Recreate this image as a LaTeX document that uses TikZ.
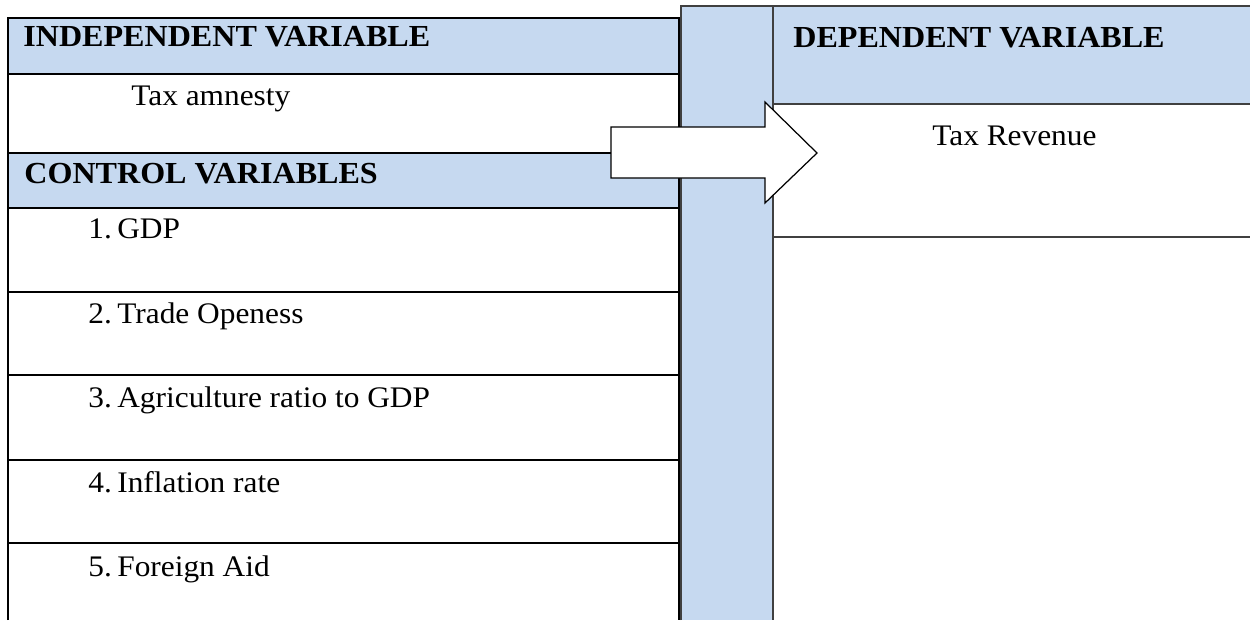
\documentclass[tikz,border=0pt]{standalone}
\usepackage{fontspec}
\setmainfont[FakeStretch=1.05]{Liberation Serif}
\usepackage{tikz}
\definecolor{hdrblue}{RGB}{198,217,240}
\tikzset{
  rowline/.style={black, line width=0.9pt},
  thinline/.style={black!75, line width=0.6pt},
  lbl/.style={anchor=base west, inner sep=0pt},
  hdrlbl/.style={lbl, font=\fontsize{17.4}{20}\selectfont\bfseries},
}

\begin{document}
\begin{tikzpicture}[x=0.02cm, y=-0.02cm, font=\fontsize{17}{20}\selectfont]
\useasboundingbox (0,0) rectangle (1250,620);
% blue bands
\fill[hdrblue] (8,18) rectangle (679,74);
\fill[hdrblue] (8,153) rectangle (679,208);
\fill[hdrblue] (681,6) rectangle (773,620);
\fill[hdrblue] (773,6) rectangle (1250,104);
% left table
\draw[rowline] (8,620) -- (8,18) -- (679,18) -- (679,620);
\foreach \y in {74,153,208,292,375,460,543}
{
	\draw[rowline] (8,\y) -- (679,\y);
}
% middle column and right table
\draw[thinline] (681,620) -- (681,6) -- (1250,6);
\draw[thinline] (773,6) -- (773,620);
\draw[thinline] (773,104) -- (1250,104);
\draw[thinline] (773,237) -- (1250,237);
% labels
\node[hdrlbl] (indep) at (23,46) {INDEPENDENT VARIABLE};
\node[lbl] (amnesty) at (131,105) {Tax amnesty};
\node[hdrlbl] (control) at (24,183) {CONTROL VARIABLES};
\node[hdrlbl] (dep) at (793,47) {DEPENDENT VARIABLE};
\node[lbl] (revenue) at (932,145) {Tax Revenue};
\foreach \i/\t/\y in {1/GDP/238, 2/Trade Openess/323, 3/Agriculture ratio to GDP/407, 4/Inflation rate/492, 5/Foreign Aid/576}
{
	\node[lbl] (num\i) at (88,\y) {\i.};
	\node[lbl] (ctrl\i) at (117,\y) {\t};
}
% block arrow
\draw[black, line width=0.7pt, fill=white, line join=miter]
  (611,127) -- (765,127) -- (765,102) -- (817,153) -- (765,203) -- (765,178) -- (611,178) -- cycle;
\end{tikzpicture}
\end{document}
